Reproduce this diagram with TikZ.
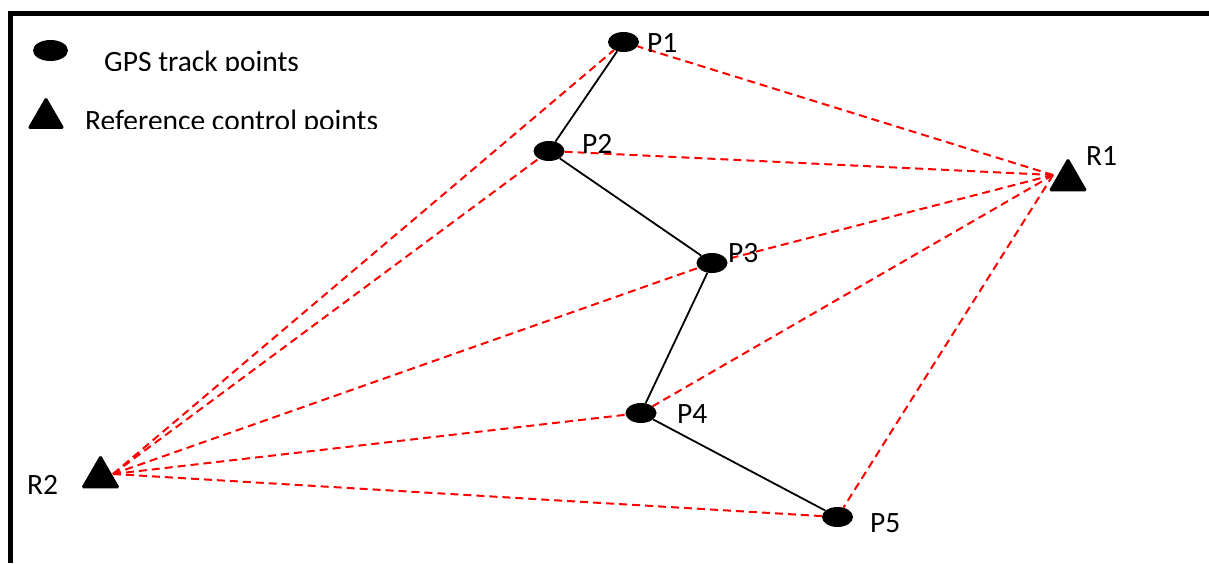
\documentclass[tikz,border=0pt]{standalone}
\usepackage{fontspec}
\setmainfont{Carlito}
\usetikzlibrary{shapes.geometric}
\tikzset{
  gps/.style={ellipse, fill=black, draw=none, minimum width=31pt, minimum height=20pt, inner sep=0pt},
  refpt/.style={regular polygon, regular polygon sides=3, fill=black, draw=black, line width=1pt, rounded corners=1.5pt, minimum size=43pt, inner sep=0pt},
  lbl/.style={anchor=base west, inner sep=0pt, font=\fontsize{29.5}{35}\selectfont},
  track/.style={draw=black, line width=1.8pt},
  sight/.style={draw=red, line width=2pt, dash pattern=on 8pt off 5pt},
  frame/.style={draw=black, line width=4.5pt, line join=miter}
}
\begin{document}
\begin{tikzpicture}[x=1pt,y=-1pt]
\useasboundingbox (0,0) rectangle (1209,563);
% frame (cut at right and bottom)
\draw[frame] (10.5,563) -- (10.5,13.5) -- (1209,13.5);
% legend
\node[gps, minimum width=35pt, minimum height=21pt] (legE) at (50.5,50.5) {};
\node[refpt, minimum size=41pt] (legT) at (46,118) {};
\begin{scope}
  \clip (80,20) rectangle (400,70);
  \node[lbl] (legEt) at (104,71.5) {GPS track points};
\end{scope}
\begin{scope}
  \clip (80,90) rectangle (400,128);
  \node[lbl] (legTt) at (85,130.5) {Reference control points};
\end{scope}
% points
\node[gps] (P1) at (623.5,42) {};
\node[gps] (P2) at (549,151) {};
\node[gps] (P3) at (712,263) {};
\node[gps] (P4) at (641,413) {};
\node[gps] (P5) at (837.5,517) {};
\node[refpt] (R1) at (1068,180) {};
\node[refpt] (R2) at (100.5,477) {};
\coordinate (r1c) at (1053,175);
\coordinate (r2c) at (113,474);
% sight lines
\foreach \p in {P1,P2,P3,P4,P5}{
  \draw[sight] (r1c) -- (\p);
  \draw[sight] (r2c) -- (\p);
}
% track
\draw[track] (P1) -- (P2) -- (P3) -- (P4) -- (P5);
% labels
\node[lbl] (P1l) at (647,52) {P1};
\node[lbl] (P2l) at (582,153) {P2};
\node[lbl] (P3l) at (728,262) {P3};
\node[lbl] (P4l) at (677,423) {P4};
\node[lbl] (P5l) at (870,532) {P5};
\node[lbl] (R1l) at (1086,165) {R1};
\node[lbl] (R2l) at (27,494) {R2};
\end{tikzpicture}
\end{document}
